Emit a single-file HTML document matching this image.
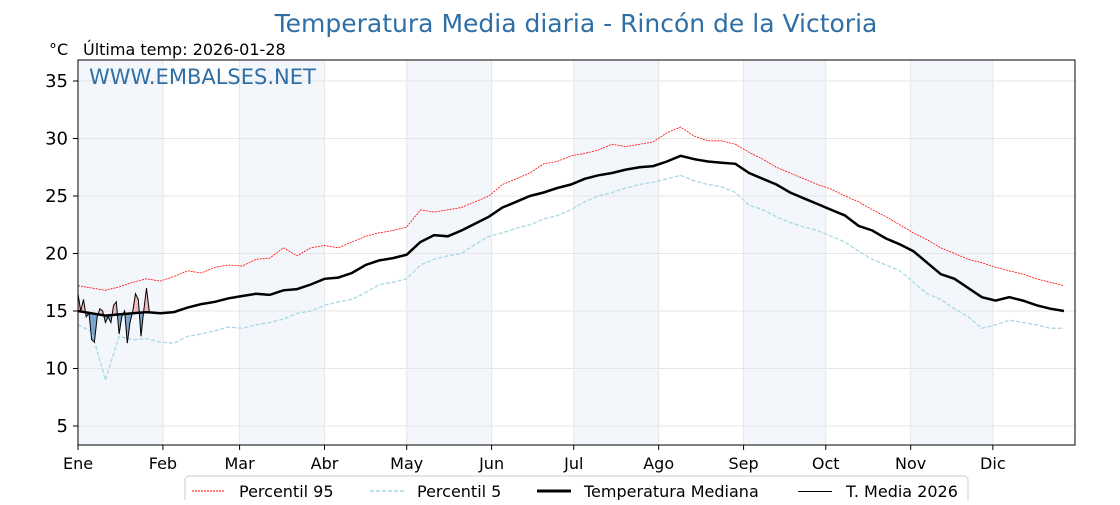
<!DOCTYPE html>
<html><head><meta charset="utf-8"><style>
body{margin:0;background:#fff;width:1120px;height:500px;overflow:hidden;font-family:"Liberation Sans","DejaVu Sans",sans-serif}
</style></head><body>
<svg id="chart" width="1120" height="500" xmlns="http://www.w3.org/2000/svg" font-family="DejaVu Sans, Liberation Sans, sans-serif">
<text x="576" y="32" text-anchor="middle" font-size="25" fill="#2f6fa5">Temperatura Media diaria - Rincón de la Victoria</text>
<text x="49" y="55" font-size="16" fill="#000">°C</text>
<text x="83" y="55" font-size="16" fill="#000">Última temp: 2026-01-28</text>
<g id="bands"></g><g id="grid"></g><g id="series"></g>
<rect x="78" y="60" width="997" height="385" fill="none" stroke="#000" stroke-width="1"/>
<text x="89" y="84" font-size="21" fill="#2f6fa5">WWW.EMBALSES.NET</text>
<g id="axes"></g>
<g>
<rect x="185" y="476" width="783" height="34" rx="4" fill="#fff" stroke="#ccc"/>
<line x1="192" y1="491" x2="225" y2="491" stroke="red" stroke-width="1" stroke-dasharray="2,1"/>
<text x="239" y="497" font-size="16">Percentil 95</text>
<line x1="370" y1="491" x2="404" y2="491" stroke="#a8d8e6" stroke-width="1.5" stroke-dasharray="4,2"/>
<text x="417" y="497" font-size="16">Percentil 5</text>
<line x1="537" y1="491" x2="571" y2="491" stroke="#000" stroke-width="3"/>
<text x="584" y="497" font-size="16">Temperatura Mediana</text>
<line x1="798" y1="491.5" x2="832" y2="491.5" stroke="#000" stroke-width="1"/>
<text x="846" y="497" font-size="16">T. Media 2026</text>
</g>
</svg>
<script>
const months=["Ene","Feb","Mar","Abr","May","Jun","Jul","Ago","Sep","Oct","Nov","Dic"];
const monthStarts=[0,31,59,90,120,151,181,212,243,273,304,334];
const yTicks=[5,10,15,20,25,30,35];
const step=5;
const median=[15.0,14.8,14.6,14.7,14.8,14.9,14.8,14.9,15.3,15.6,15.8,16.1,16.3,16.5,16.4,16.8,16.9,17.3,17.8,17.9,18.3,19.0,19.4,19.6,19.9,21.0,21.6,21.5,22.0,22.6,23.2,24.0,24.5,25.0,25.3,25.7,26.0,26.5,26.8,27.0,27.3,27.5,27.6,28.0,28.5,28.2,28.0,27.9,27.8,27.0,26.5,26.0,25.3,24.8,24.3,23.8,23.3,22.4,22.0,21.3,20.8,20.2,19.2,18.2,17.8,17.0,16.2,15.9,16.2,15.9,15.5,15.2,15.0];
const p95=[17.2,17.0,16.8,17.1,17.5,17.8,17.6,18.0,18.5,18.3,18.8,19.0,18.9,19.5,19.6,20.5,19.8,20.5,20.7,20.5,21.0,21.5,21.8,22.0,22.3,23.8,23.6,23.8,24.0,24.5,25.0,26.0,26.5,27.0,27.8,28.0,28.5,28.7,29.0,29.5,29.3,29.5,29.7,30.5,31.0,30.2,29.8,29.8,29.5,28.8,28.2,27.5,27.0,26.5,26.0,25.6,25.0,24.5,23.8,23.2,22.5,21.8,21.2,20.5,20.0,19.5,19.2,18.8,18.5,18.2,17.8,17.5,17.2];
const p5=[13.8,13.2,9.0,12.8,12.5,12.6,12.3,12.2,12.8,13.0,13.3,13.6,13.5,13.8,14.0,14.3,14.8,15.0,15.5,15.8,16.0,16.6,17.3,17.5,17.8,19.0,19.5,19.8,20.0,20.8,21.5,21.8,22.2,22.5,23.0,23.3,23.8,24.5,25.0,25.3,25.7,26.0,26.2,26.5,26.8,26.3,26.0,25.8,25.3,24.2,23.8,23.2,22.7,22.3,22.0,21.5,21.0,20.2,19.5,19.0,18.5,17.5,16.5,16.0,15.2,14.5,13.5,13.8,14.2,14.0,13.8,13.5,13.5];
const t2026=[16.5,15.0,16.0,14.5,14.8,12.5,12.3,14.5,15.2,15.0,14.0,14.5,14.0,15.5,15.8,13.0,14.5,15.0,12.2,14.0,15.0,16.5,16.0,12.8,15.0,17.0,15.0,14.8];
const NS="http://www.w3.org/2000/svg";
const X=d=>78+d*(997/364);
const Y=v=>426-(v-5)*11.5;
function mk(tag,attrs,parent){const e=document.createElementNS(NS,tag);for(const k in attrs)e.setAttribute(k,attrs[k]);document.getElementById(parent).appendChild(e);return e;}
monthStarts.forEach((d,i)=>{
  const end=i<11?monthStarts[i+1]:364;
  if(i%2===0){const r=mk('rect',{x:X(d),y:60,width:X(end)-X(d),height:385,fill:'#f3f7fc'},'bands');
    
    }
  const g=mk('line',{x1:X(d),x2:X(d),y1:60,y2:445,stroke:'#e6e6e6'},'grid');
  
  
  const t=mk('line',{x1:X(d),x2:X(d),y1:445,y2:450,stroke:'#000'},'axes');
  
  
  const l=mk('text',{x:X(d),y:469,'font-size':16,'text-anchor':'middle'},'axes');l.textContent=months[i];
  
  
});
yTicks.forEach(v=>{
  const g=mk('line',{x1:78,x2:1075,y1:Y(v),y2:Y(v),stroke:'#e6e6e6'},'grid');
  
  
  const t=mk('line',{x1:73,x2:78,y1:Y(v),y2:Y(v),stroke:'#000'},'axes');
  
  
  const l=mk('text',{x:68,y:Y(v)+6,'font-size':18,'text-anchor':'end'},'axes');l.textContent=v;
  
  
});
const pts=(arr,s)=>arr.map((v,i)=>X(i*s).toFixed(1)+','+Y(v).toFixed(1)).join(' ');
const medDaily=d=>{const i=Math.min(Math.floor(d/step),median.length-2);const f=(d-i*step)/step;return median[i]*(1-f)+median[i+1]*f;};
t2026.forEach((v,i)=>{if(i===t2026.length-1)return;
  const m0=medDaily(i),m1=medDaily(i+1),v1=t2026[i+1];
  const p=mk('polygon',{points:`${X(i)},${Y(v)} ${X(i+1)},${Y(v1)} ${X(i+1)},${Y(m1)} ${X(i)},${Y(m0)}`,fill:(v+v1)/2>(m0+m1)/2?'#f4a6a6':'#4f86b8',opacity:0.75},'series');
  
  
});
let e;
e=mk('polyline',{points:pts(p95,step),fill:'none',stroke:'red','stroke-width':0.8,'stroke-dasharray':'2,1'},'series');


e=mk('polyline',{points:pts(p5,step),fill:'none',stroke:'#a8d8e6','stroke-width':1.3,'stroke-dasharray':'4,2'},'series');


e=mk('polyline',{points:pts(median,step),fill:'none',stroke:'#000','stroke-width':2.5},'series');


e=mk('polyline',{points:pts(t2026,1),fill:'none',stroke:'#000','stroke-width':1},'series');


</script>
</body></html>
